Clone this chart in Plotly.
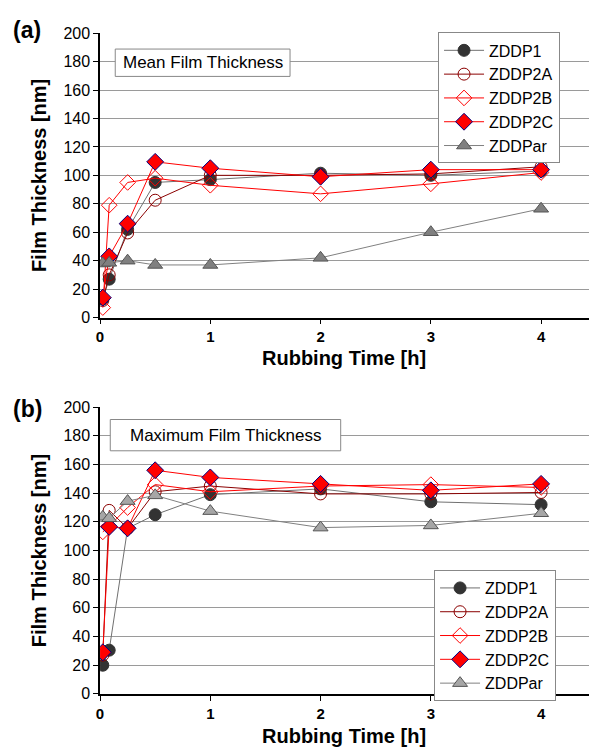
import plotly.graph_objects as go

# ---------------- data ----------------
rubbing_time = [0.025, 0.083, 0.25, 0.5, 1, 2, 3, 4]
series_names = ["ZDDP1", "ZDDP2A", "ZDDP2B", "ZDDP2C", "ZDDPar"]

mean_zddp1 = [13, 27, 62, 95, 97, 101.5, 100, 103]
mean_zddp2a = [12, 30, 59.5, 82.5, 100, 100, 101, 106]
mean_zddp2b = [7, 79, 95, 98, 93, 87, 94, 102]
mean_zddp2c = [14, 43, 66, 109.5, 105, 99, 104, 104]
mean_zddpar = [38, 38.5, 40, 37, 37, 42, 60, 76.5]

max_zddp1 = [20, 30.5, 115.5, 125, 139, 143, 134, 132]
max_zddp2a = [27, 128, 115.5, 141, 145, 139.5, 139.5, 140.5]
max_zddp2b = [113, 117, 130, 146, 141, 145, 146, 144]
max_zddp2c = [29, 116.5, 115.5, 156, 151, 146.5, 142, 146.5]
max_zddpar = [123.5, 122.5, 134.5, 138.5, 127.5, 116, 117.5, 126]

y_ticks = [0, 20, 40, 60, 80, 100, 120, 140, 160, 180, 200]
x_ticks = [0, 1, 2, 3, 4]

# ---------------- styles ----------------
def styles(tri_fill):
    return {
        "ZDDP1": dict(line=dict(color="#707070", width=1),
                      marker=dict(symbol="circle", size=12, color="#333333",
                                  line=dict(color="#333333", width=1))),
        "ZDDP2A": dict(line=dict(color="#8B0000", width=1),
                       marker=dict(symbol="circle-open", size=12, color="#8B0000",
                                   line=dict(color="#8B0000", width=1))),
        "ZDDP2B": dict(line=dict(color="#FF0000", width=1),
                       marker=dict(symbol="diamond-open", size=12, color="#FF0000",
                                   line=dict(color="#FF0000", width=1))),
        "ZDDP2C": dict(line=dict(color="#FF0000", width=1),
                       marker=dict(symbol="diamond", size=13, color="#FF0000",
                                   line=dict(color="#000080", width=1))),
        "ZDDPar": dict(line=dict(color="#808080", width=1),
                       marker=dict(symbol="triangle-up", size=13, color=tri_fill,
                                   line=dict(color="#555555", width=1))),
    }

FONT = "Liberation Sans, Arial, sans-serif"
fig = go.Figure()

mean_sets = [mean_zddp1, mean_zddp2a, mean_zddp2b, mean_zddp2c, mean_zddpar]
max_sets = [max_zddp1, max_zddp2a, max_zddp2b, max_zddp2c, max_zddpar]

st_a = styles("#808080")
st_b = styles("#a6a6a6")
for name, vals in zip(series_names, mean_sets):
    fig.add_trace(go.Scatter(x=rubbing_time, y=vals, name=name, mode="lines+markers",
                             xaxis="x", yaxis="y", legend="legend", **st_a[name]))
for name, vals in zip(series_names, max_sets):
    fig.add_trace(go.Scatter(x=rubbing_time, y=vals, name=name, mode="lines+markers",
                             xaxis="x2", yaxis="y2", legend="legend2", **st_b[name]))

W, H = 589, 754
x_dom = [96.7 / W, 588.5 / W]
ya_dom = [(H - 316.7) / H, (H - 25.7) / H]
yb_dom = [(H - 701.7) / H, (H - 408.4) / H]

xaxis_common = dict(range=[0, 4.43], tickvals=x_ticks, ticks="outside", ticklen=5,
                    tickcolor="black", showline=True, linecolor="black", linewidth=1.5,
                    showgrid=False, zeroline=False,
                    tickfont=dict(family=FONT, size=15, color="black", weight="bold"))
yaxis_common = dict(range=[0, 200], tickvals=y_ticks, ticks="outside", ticklen=5,
                    tickcolor="black", showline=True, linecolor="black", linewidth=1.5,
                    showgrid=True, gridcolor="#9a9a9a", gridwidth=1, zeroline=False,
                    tickfont=dict(family=FONT, size=16, color="black"))

legend_common = dict(bgcolor="white", bordercolor="#888888", borderwidth=1,
                     font=dict(family=FONT, size=16, color="black"),
                     xanchor="left", yanchor="middle", itemwidth=40, tracegroupgap=0)

fig.update_layout(
    width=W, height=H, margin=dict(l=0, r=0, t=0, b=0),
    paper_bgcolor="white", plot_bgcolor="white",
    font=dict(family=FONT, color="black"),
    xaxis=dict(domain=x_dom, anchor="y", **xaxis_common),
    yaxis=dict(domain=ya_dom, anchor="x", **yaxis_common),
    xaxis2=dict(domain=x_dom, anchor="y2", **xaxis_common),
    yaxis2=dict(domain=yb_dom, anchor="x2", **yaxis_common),
    legend=dict(x=437 / W, y=1 - 92 / H, **legend_common),
    legend2=dict(x=433 / W, y=1 - 642 / H, **legend_common),
    showlegend=True,
)

for text, cy in [("<b>(a)</b>", 22), ("<b>(b)</b>", 410)]:
    fig.add_annotation(text=text, xref="paper", yref="paper",
                       x=7 / W, y=1 - cy / H, xanchor="left", yanchor="middle",
                       showarrow=False, font=dict(family=FONT, size=23, color="black"))

# axis titles
for cy in [171.2, 555.0]:
    fig.add_annotation(text="<b>Film Thickness [nm]</b>", xref="paper", yref="paper",
                       x=36 / W, y=1 - cy / H, textangle=-90, showarrow=False,
                       xanchor="center", yanchor="middle",
                       font=dict(family=FONT, size=20, color="black"))
for cy in [358, 745]:
    fig.add_annotation(text="<b>Rubbing Time [h]</b>", xref="paper", yref="paper",
                       x=342 / W, y=1 - cy / H, showarrow=False,
                       xanchor="center", yanchor="middle",
                       font=dict(family=FONT, size=20, color="black"))

# title boxes
boxes = [
    ("Mean Film Thickness", 112, 42, 288, 70),
    ("Maximum Film Thickness", 107, 421, 339, 453),
]
for text, x0, y0, x1, y1 in boxes:
    fig.add_shape(type="rect", xref="paper", yref="paper",
                  x0=x0 / W, x1=x1 / W, y0=1 - y0 / H, y1=1 - y1 / H,
                  line=dict(color="#888888", width=1), fillcolor="white", layer="above")
    fig.add_annotation(text=text, xref="paper", yref="paper",
                       x=(x0 + x1) / 2 / W, y=1 - (y0 + y1) / 2 / H, showarrow=False,
                       xanchor="center", yanchor="middle",
                       font=dict(family=FONT, size=17, color="black"))

fig.write_html("out.html")
